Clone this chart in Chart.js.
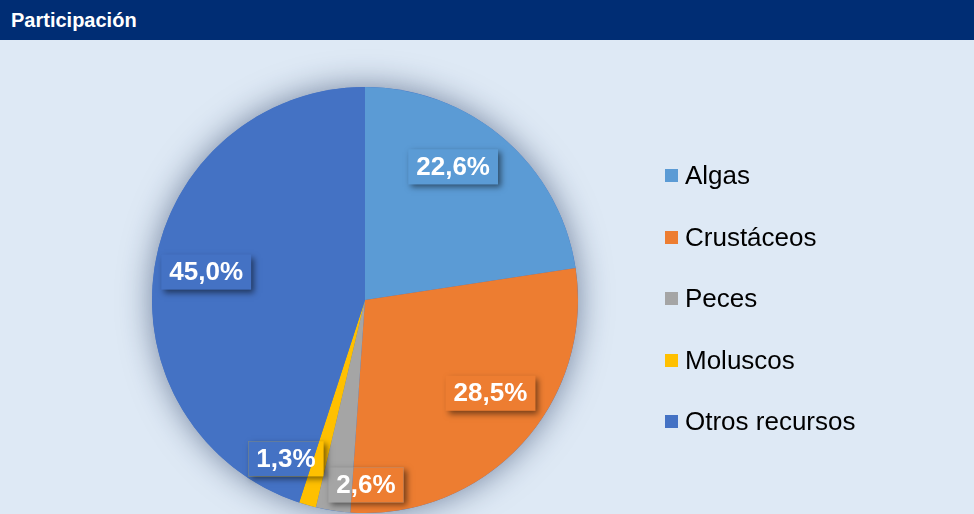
<!DOCTYPE html>
<html>
<head>
    <meta charset="utf-8">
    <title>Participación</title>
    <script src="https://cdn.jsdelivr.net/npm/chart.js"></script>
    <style>
        body { margin: 0; width: 974px; height: 514px; overflow: hidden; background: #dee9f5; font-family: "Liberation Sans", Arial, sans-serif; position: relative; }
        #header { position: absolute; left: 0; top: 0; width: 974px; height: 40px; background: #002d74; }
        #header span { position: absolute; left: 11px; top: 8px; color: #fff; font-weight: bold; font-size: 20px; line-height: 24px; }
        #wrap { position: absolute; left: 0; top: 40px; width: 974px; height: 474px; }
        #legend { position: absolute; left: 665px; top: 0; }
        .item { position: absolute; left: 0; height: 30px; white-space: nowrap; font-size: 26px; color: #000; line-height: 30px; }
        .item i { position: absolute; left: 0; top: 9px; width: 13px; height: 13px; }
        .item span { position: absolute; left: 20px; top: 0; }
    </style>
</head>
<body>
    <div id="header"><span>Participación</span></div>
    <div id="wrap"><canvas id="pieChart" width="974" height="474"></canvas></div>
    <div id="legend"></div>

    <script>
        // categories, shares (%) and slice colours
        const categories = ['Algas', 'Crustáceos', 'Peces', 'Moluscos', 'Otros recursos'];
        const shares = [22.6, 28.5, 2.6, 1.3, 45.0];
        const colors = ['#5b9bd5', '#ed7d31', '#a5a5a5', '#ffc000', '#4472c4'];

        // soft shadow behind the whole pie
        const pieShadow = {
            id: 'pieShadow',
            beforeDatasetsDraw(chart) {
                const arc = chart.getDatasetMeta(0).data[0];
                if (!arc) return;
                const { x, y, outerRadius } = arc.getProps(['x', 'y', 'outerRadius'], true);
                const ctx = chart.ctx;
                ctx.save();
                ctx.shadowColor = 'rgba(25,45,85,0.55)';
                ctx.shadowBlur = 32;
                ctx.beginPath();
                ctx.arc(x, y, outerRadius, 0, Math.PI * 2);
                ctx.fillStyle = '#4472c4';
                ctx.fill();
                ctx.restore();
            }
        };

        // percentage labels in boxes with a drop shadow
        const boxLabels = {
            id: 'boxLabels',
            afterDatasetsDraw(chart, args, opts) {
                const ctx = chart.ctx;
                const meta = chart.getDatasetMeta(0);
                ctx.save();
                ctx.font = 'bold 26px "Liberation Sans", Arial, sans-serif';
                ctx.textAlign = 'center';
                ctx.textBaseline = 'middle';
                meta.data.forEach((arc, i) => {
                    const p = arc.getProps(['x', 'y', 'startAngle', 'endAngle', 'outerRadius'], true);
                    const mid = (p.startAngle + p.endAngle) / 2;
                    const nudge = opts.nudge[i] || [0, 0];
                    const cx = p.x + Math.cos(mid) * p.outerRadius * 0.75 + nudge[0];
                    const cy = p.y + Math.sin(mid) * p.outerRadius * 0.75 + nudge[1];
                    const text = chart.data.datasets[0].data[i].toFixed(1).replace('.', ',') + '%';
                    const w = ctx.measureText(text).width + 16;
                    const h = 35;
                    const bx = cx - w / 2, by = cy - h / 2;

                    // shadow only outside the (transparent) box
                    ctx.save();
                    ctx.beginPath();
                    ctx.rect(0, 0, chart.width, chart.height);
                    ctx.rect(bx, by, w, h);
                    ctx.clip('evenodd');
                    ctx.shadowColor = 'rgba(0,0,0,0.5)';
                    ctx.shadowBlur = 6;
                    ctx.shadowOffsetX = 3;
                    ctx.shadowOffsetY = 3;
                    ctx.fillStyle = colors[i];
                    ctx.fillRect(bx, by, w, h);
                    ctx.restore();

                    ctx.fillStyle = '#ffffff';
                    ctx.fillText(text, cx, cy + 1);
                });
                ctx.restore();
            }
        };

        const ctx = document.getElementById('pieChart').getContext('2d');
        new Chart(ctx, {
            type: 'pie',
            data: {
                labels: categories,
                datasets: [{
                    data: shares,
                    backgroundColor: colors,
                    borderWidth: 0
                }]
            },
            options: {
                responsive: false,
                animation: false,
                layout: { padding: { left: 152, right: 396, top: 47, bottom: 1 } },
                plugins: {
                    legend: { display: false },
                    tooltip: { enabled: false },
                    boxLabels: {
                        nudge: [[-16, -12], [8, -15], [25, 27], [-36, 5], [-1, -3]]
                    }
                }
            },
            plugins: [pieShadow, boxLabels]
        });

        // legend
        const legend = document.getElementById('legend');
        categories.forEach((name, i) => {
            const item = document.createElement('div');
            item.className = 'item';
            item.style.top = (160 + i * 61.6) + 'px';
            item.innerHTML = '<i style="background:' + colors[i] + '"></i><span>' + name + '</span>';
            legend.appendChild(item);
        });
    </script>
</body>
</html>
